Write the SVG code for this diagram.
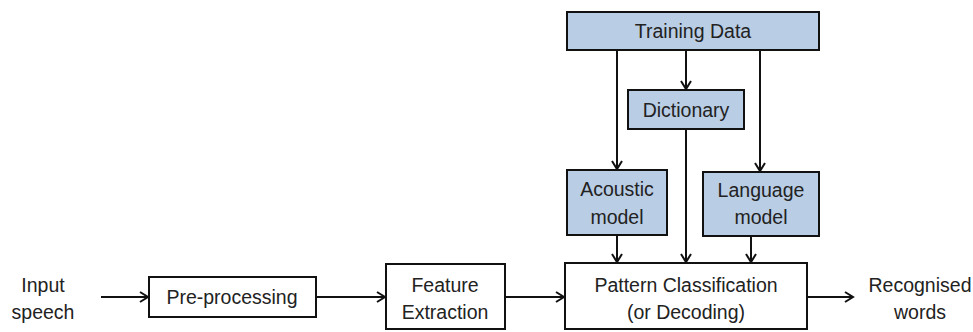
<svg xmlns="http://www.w3.org/2000/svg" width="973" height="332" viewBox="0 0 973 332">
<defs>
<style>
.box{fill:#fff;stroke:#111;stroke-width:2}
.blue{fill:#b9cde5;stroke:#111;stroke-width:2}
.t{font-family:"Liberation Sans",Arial,sans-serif;font-size:19.5px;fill:#222;text-anchor:middle}
.c{stroke:#111;stroke-width:2;fill:none;marker-end:url(#ah)}
</style>
<marker id="ah" markerUnits="userSpaceOnUse" markerWidth="14" markerHeight="14" viewBox="-10 -7 12 14" refX="0" refY="0" orient="auto">
<path d="M-8,-5 L0,0 L-8,5" fill="none" stroke="#111" stroke-width="2"/>
</marker>
</defs>
<rect width="973" height="332" fill="#fff"/>
<g id="connectors">
<line class="c" x1="617" y1="50" x2="617" y2="169"/>
<line class="c" x1="686" y1="50" x2="686" y2="89"/>
<line class="c" x1="760" y1="50" x2="760" y2="171"/>
<line class="c" x1="686" y1="129" x2="686" y2="262"/>
<line class="c" x1="617" y1="235" x2="617" y2="262"/>
<line class="c" x1="751" y1="236" x2="751" y2="262"/>
<line class="c" x1="101" y1="297" x2="148" y2="297"/>
<line class="c" x1="316" y1="297" x2="385" y2="297"/>
<line class="c" x1="505" y1="297" x2="564" y2="297"/>
<line class="c" x1="807" y1="297" x2="853" y2="297"/>
</g>
<g id="training">
<rect class="blue" x="567" y="12" width="252" height="38"/>
<text class="t" x="693" y="38">Training Data</text>
</g>
<g id="dictionary">
<rect class="blue" x="628" y="90" width="116" height="39"/>
<text class="t" x="686" y="117">Dictionary</text>
</g>
<g id="acoustic">
<rect class="blue" x="567" y="170" width="100" height="65"/>
<text class="t" x="617" y="196">Acoustic</text>
<text class="t" x="617" y="224">model</text>
</g>
<g id="language">
<rect class="blue" x="703" y="172" width="116" height="64"/>
<text class="t" x="761" y="197">Language</text>
<text class="t" x="761" y="224">model</text>
</g>
<g id="pattern">
<rect class="box" x="565" y="263" width="242" height="66"/>
<text class="t" x="686" y="292">Pattern Classification</text>
<text class="t" x="686" y="319">(or Decoding)</text>
</g>
<g id="input">
<text class="t" x="43" y="292">Input</text>
<text class="t" x="43" y="319">speech</text>
</g>
<g id="preprocessing">
<rect class="box" x="149" y="277" width="167" height="40"/>
<text class="t" x="232" y="304">Pre-processing</text>
</g>
<g id="feature">
<rect class="box" x="386" y="264" width="119" height="65"/>
<text class="t" x="445" y="292">Feature</text>
<text class="t" x="445" y="319">Extraction</text>
</g>
<g id="output">
<text class="t" x="920" y="292">Recognised</text>
<text class="t" x="920" y="319">words</text>
</g>
</svg>
